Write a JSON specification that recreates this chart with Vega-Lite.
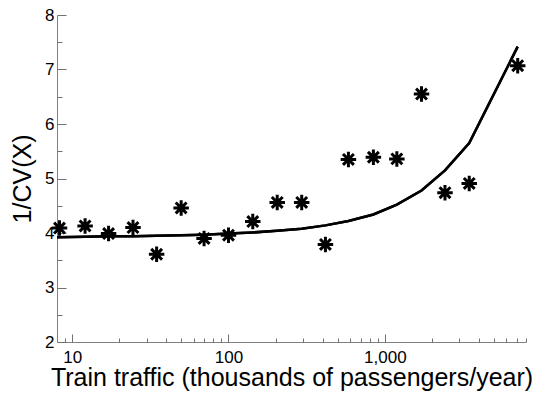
{
  "$schema": "https://vega.github.io/schema/vega-lite/v6.json",
  "width": 469,
  "height": 327,
  "autosize": "none",
  "padding": {"left": 57, "top": 15, "right": 22, "bottom": 51},
  "background": "white",
  "config": {
    "view": {"stroke": null},
    "font": "Liberation Sans",
    "axis": {
      "grid": false,
      "domainColor": "#808080",
      "labelColor": "black",
      "titleColor": "black",
      "labelFont": "Liberation Sans",
      "titleFont": "Liberation Sans",
      "labelFontSize": 17,
      "titleFontSize": 25,
      "titleFontWeight": "normal"
    }
  },
  "datasets": {
    "points": [
      {"x": 8.3, "y": 4.09},
      {"x": 12.1, "y": 4.13},
      {"x": 17.1, "y": 3.99},
      {"x": 24.5, "y": 4.10},
      {"x": 34.7, "y": 3.61},
      {"x": 49.8, "y": 4.46},
      {"x": 69.8, "y": 3.90},
      {"x": 100, "y": 3.96},
      {"x": 143, "y": 4.21},
      {"x": 205, "y": 4.56},
      {"x": 294, "y": 4.56},
      {"x": 417, "y": 3.79},
      {"x": 585, "y": 5.35},
      {"x": 845, "y": 5.39},
      {"x": 1194, "y": 5.36},
      {"x": 1717, "y": 6.55},
      {"x": 2426, "y": 4.74},
      {"x": 3467, "y": 4.91},
      {"x": 7079, "y": 7.07}
    ],
    "curve": [
      {"x": 8, "y": 3.92},
      {"x": 12.1, "y": 3.93},
      {"x": 17.1, "y": 3.94},
      {"x": 24.5, "y": 3.94},
      {"x": 34.7, "y": 3.95},
      {"x": 49.8, "y": 3.96},
      {"x": 69.8, "y": 3.97},
      {"x": 100, "y": 3.99},
      {"x": 143, "y": 4.01},
      {"x": 205, "y": 4.04},
      {"x": 294, "y": 4.08},
      {"x": 417, "y": 4.14},
      {"x": 585, "y": 4.22},
      {"x": 845, "y": 4.34},
      {"x": 1194, "y": 4.52},
      {"x": 1717, "y": 4.78},
      {"x": 2426, "y": 5.15},
      {"x": 3467, "y": 5.65},
      {"x": 7079, "y": 7.42}
    ]
  },
  "layer": [
    {
      "data": {"name": "curve"},
      "mark": {"type": "line", "color": "black", "strokeWidth": 2.5, "clip": true},
      "encoding": {
        "x": {
          "field": "x", "type": "quantitative",
          "scale": {"type": "log", "domain": [8, 8000], "nice": false},
          "axis": {
            "orient": "bottom",
            "values": [10, 100, 1000],
            "format": ",d",
            "ticks": true,
            "tickSize": 2,
            "tickOpacity": 0,
            "labelPadding": 5,
            "title": "Train traffic (thousands of passengers/year)",
            "titlePadding": 0
          }
        },
        "y": {
          "field": "y", "type": "quantitative",
          "scale": {"domain": [2, 8], "nice": false, "zero": false},
          "axis": {
            "orient": "left",
            "values": [2, 3, 4, 5, 6, 7, 8],
            "ticks": true,
            "tickSize": 2,
            "tickOpacity": 0,
            "labelPadding": 1,
            "title": "1/CV(X)",
            "titlePadding": 9
          }
        }
      }
    },
    {
      "data": {"name": "points"},
      "mark": {
        "type": "point",
        "shape": "M0,-1L0,1M-1,0L1,0M-0.7,-0.7L0.7,0.7M-0.7,0.7L0.7,-0.7",
        "filled": false,
        "stroke": "black",
        "strokeWidth": 3,
        "opacity": 1,
        "size": 240
      },
      "encoding": {
        "x": {
          "field": "x", "type": "quantitative",
          "axis": {
            "orient": "top",
            "offset": -327,
            "values": [9, 20, 30, 40, 50, 60, 70, 80, 90, 200, 300, 400, 500, 600, 700, 800, 900, 2000, 3000, 4000, 5000, 6000, 7000, 8000],
            "ticks": true,
            "tickColor": "#707070",
            "tickSize": 4,
            "labels": false,
            "domain": false,
            "title": null
          }
        },
        "y": {
          "field": "y", "type": "quantitative",
          "axis": {
            "orient": "right",
            "offset": -469,
            "values": [2.5, 3.5, 4.5, 5.5, 6.5, 7.5],
            "ticks": true,
            "tickColor": "#707070",
            "tickSize": 5,
            "labels": false,
            "domain": false,
            "title": null
          }
        }
      }
    },
    {
      "data": {"name": "curve"},
      "mark": {"type": "line", "color": "black", "strokeWidth": 2.5, "clip": true},
      "encoding": {
        "x": {
          "field": "x", "type": "quantitative",
          "axis": {
            "orient": "top",
            "offset": -327,
            "values": [10, 100, 1000],
            "ticks": true,
            "tickColor": "#707070",
            "tickSize": 8,
            "labels": false,
            "domain": false,
            "title": null
          }
        },
        "y": {
          "field": "y", "type": "quantitative",
          "axis": {
            "orient": "right",
            "offset": -469,
            "values": [2, 3, 4, 5, 6, 7, 8],
            "ticks": true,
            "tickColor": "#707070",
            "tickSize": 9,
            "labels": false,
            "domain": false,
            "title": null
          }
        }
      }
    }
  ],
  "resolve": {"axis": {"x": "independent", "y": "independent"}}
}
